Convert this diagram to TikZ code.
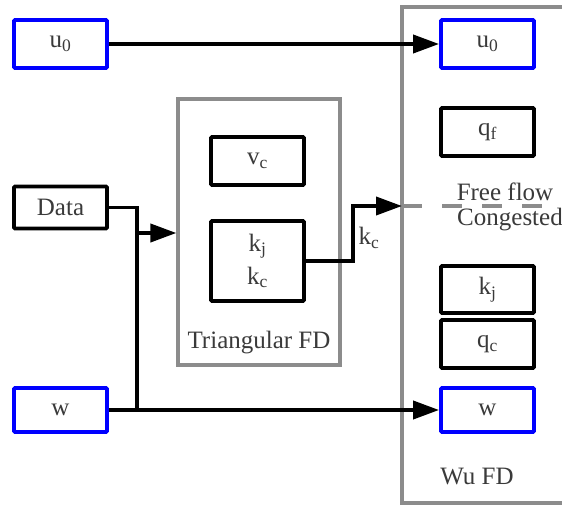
\documentclass[tikz,border=0pt]{standalone}
\usepackage{fontspec}
\setmainfont{Liberation Serif}
\usetikzlibrary{arrows.meta}
\definecolor{txt}{HTML}{3A3A3A}
\definecolor{frame}{HTML}{8C8C8C}
\definecolor{inblue}{HTML}{0000FF}
\begin{document}
\begin{tikzpicture}[x=1pt,y=-1pt,
  every node/.style={font=\fontsize{25}{33}\selectfont, text=txt},
  box/.style={draw=black, line width=3.8pt, rounded corners=1pt, minimum width=93pt, inner sep=0pt, align=center},
  inbox/.style={box, draw=inblue},
  grpbox/.style={draw=frame, line width=3.2pt, inner sep=0pt},
  conn/.style={draw=black, line width=3.8pt},
  arr/.style={conn, -{Triangle[length=26pt,width=18pt]}},
  lbl/.style={inner sep=0pt}
]
\clip (0,0) rectangle (562,506);
\fill[white] (0,0) rectangle (562,506);

% frames
\node[grpbox, minimum width=162pt, minimum height=266pt] (tri) at (259,232) {};
\node[grpbox, minimum width=200pt, minimum height=496pt] (wu) at (502,255) {};
\node[lbl] (tril) at (259,343) {Triangular FD};
\node[lbl] (wul) at (477,476) {Wu FD};

% left inputs
\node[inbox, minimum height=48pt] (u0L) at (60.5,44) {u\textsubscript{0}};
\node[box, minimum height=42pt] (data) at (60.5,207.5) {Data};
\node[inbox, minimum height=44pt] (wL) at (60.5,410) {w};

% triangular FD
\node[box, minimum height=48pt] (vc) at (257.5,161) {v\textsubscript{c}};
\node[box, minimum height=80pt] (kjkc) at (257.5,261) {k\textsubscript{j}\\k\textsubscript{c}};

% Wu FD
\node[inbox, minimum height=48pt] (u0R) at (487.5,44) {u\textsubscript{0}};
\node[box, minimum height=48pt] (qf) at (487.5,132) {q\textsubscript{f}};
\node[box, minimum height=47pt] (kjR) at (487.5,289.5) {k\textsubscript{j}};
\node[box, minimum height=48pt] (qcR) at (487.5,344) {q\textsubscript{c}};
\node[inbox, minimum height=44pt] (wR) at (487.5,410) {w};

\coordinate (ff) at (402,206);
\coordinate (ffend) at (545,206);
\draw[draw=frame, line width=3.2pt, dash pattern=on 20pt off 20pt] (ff) -- (ffend);
\node[lbl] (free) at (505,192) {Free flow};
\node[lbl] (cong) at (510,220) {Congested};

% connectors
\draw[arr] (u0L.east) -- (u0R.west);
\draw[arr] (wL.east) -- (wR.west);
\coordinate (jn) at (137,410);
\coordinate (br) at (137,233);
\draw[conn] (data.east) -| (jn);
\draw[arr] (br) -- (br -| tri.west);
\coordinate (kcx) at (353,261);
\draw[arr] (kjkc.east) -- (kcx) |- (ff);
\node[lbl] (kcl) at (369,238) {k\textsubscript{c}};
\end{tikzpicture}
\end{document}
